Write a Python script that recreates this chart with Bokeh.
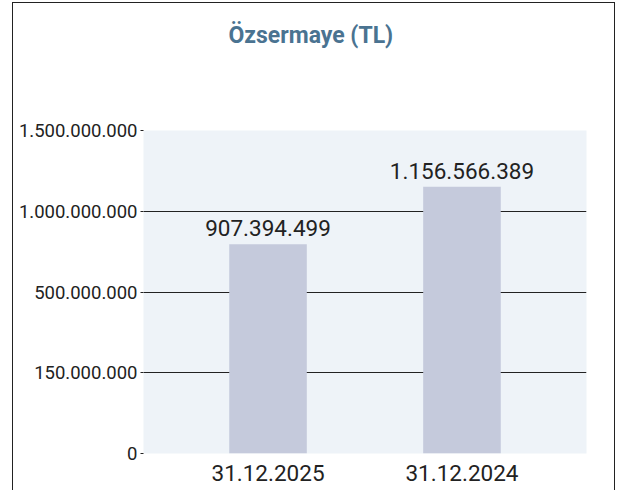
from bokeh.plotting import figure
from bokeh.models import FactorRange, Range1d, FixedTicker, LabelSet, Title, ColumnDataSource
from bokeh.core.properties import value
from bokeh.embed import file_html
from bokeh.resources import INLINE

# ---- data ----
dates = ["31.12.2025", "31.12.2024"]
values = [907394499, 1156566389]
value_labels = ["907.394.499", "1.156.566.389"]
y_tick_labels = ["0", "150.000.000", "500.000.000", "1.000.000.000", "1.500.000.000"]
y_max = 1400000000

title_text = "Özsermaye (TL)"

source = ColumnDataSource(dict(x=dates, y=values, lab=value_labels))

p = figure(
    title=None,
    x_range=FactorRange(factors=dates, range_padding=0.142),
    y_range=Range1d(0, y_max),
    width=603, height=488,
    output_backend="svg", toolbar_location=None,
    min_border_left=130, min_border_right=30, min_border_top=127, min_border_bottom=38,
    styles={"border-top": "1px solid #222", "border-left": "1px solid #222",
            "border-right": "1px solid #222", "margin-left": "12px", "margin-top": "2px"},
)

# spacer between frame and title, then the title itself
p.add_layout(Title(text=" ", text_font_size="1px", standoff=74), "above")
p.add_layout(Title(text=title_text, align="left", offset=85, standoff=10,
                   text_font="Roboto", text_font_style="bold",
                   text_font_size="23px", text_color="#4A7391"), "above")

p.background_fill_color = "#EEF3F8"
p.border_fill_color = "white"
p.outline_line_color = None

p.vbar(x="x", top="y", width=0.4, source=source, color="#C5CADC", line_color=None)

labels = LabelSet(x="x", y="y", text="lab", source=source, y_offset=8,
                  text_align="center", text_baseline="alphabetic",
                  text_font=value("Roboto"), text_font_size=value("22.5px"),
                  text_color="#222222")
p.add_layout(labels)

n = len(y_tick_labels)
ticks = [y_max * i / (n - 1) for i in range(n)]
p.yaxis.ticker = FixedTicker(ticks=ticks)
p.yaxis.major_label_overrides = {t: l for t, l in zip(ticks, y_tick_labels)}
p.yaxis.axis_line_color = None
p.yaxis.minor_tick_line_color = None
p.yaxis.major_tick_in = 0
p.yaxis.major_tick_out = 3
p.yaxis.major_tick_line_color = "#222222"
p.yaxis.major_label_standoff = 3
p.yaxis.major_label_text_font = "Roboto"
p.yaxis.major_label_text_font_size = "18.5px"
p.yaxis.major_label_text_color = "#222222"

p.xaxis.axis_line_color = None
p.xaxis.major_tick_line_color = None
p.xaxis.minor_tick_line_color = None
p.xaxis.major_label_standoff = 5
p.xaxis.major_label_text_font = "Roboto"
p.xaxis.major_label_text_font_size = "22.5px"
p.xaxis.major_label_text_color = "#222222"

p.xgrid.grid_line_color = None
p.ygrid.grid_line_color = "#222222"
p.ygrid.grid_line_width = 1

open("out.html", "w").write(file_html(p, INLINE))
